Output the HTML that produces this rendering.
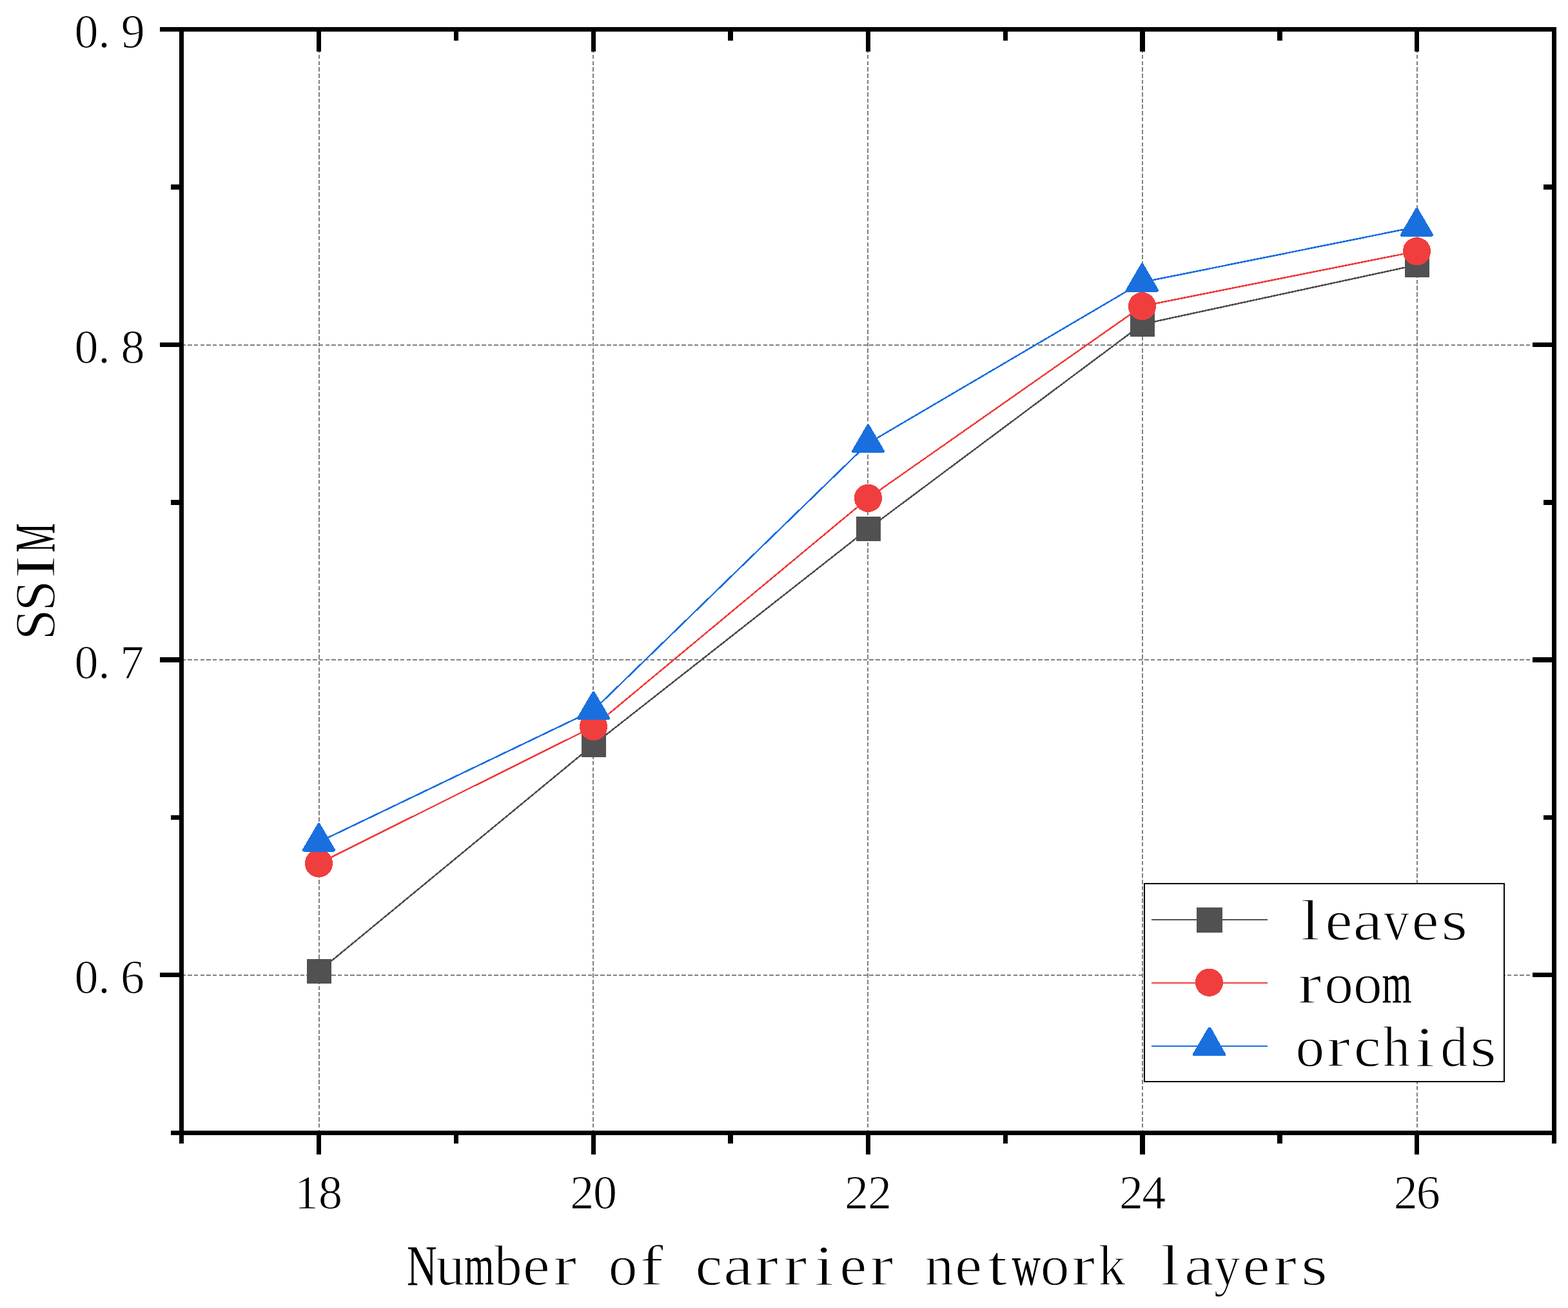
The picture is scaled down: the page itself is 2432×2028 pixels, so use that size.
<!DOCTYPE html>
<html lang="en">
<head>
<meta charset="utf-8">
<title>SSIM vs. number of carrier network layers</title>
<style>
html,body{margin:0;padding:0;background:#fff}
body{width:2432px;height:2028px;overflow:hidden}
svg{display:block}
text{font-family:"Liberation Serif","Noto Serif CJK SC",serif;fill:#000;white-space:pre}
.tick{font-size:74px;stroke:#fff;stroke-width:1px}
.big{font-size:89.5px;stroke:#fff;stroke-width:1.5px}
.w{stroke:none}
.geo{shape-rendering:crispEdges}
</style>
</head>
<body>
<svg width="2432" height="2028" viewBox="0 0 2432 2028" role="img" aria-label="Line chart of SSIM against number of carrier network layers">
<rect width="2432" height="2028" fill="#fff"/>

<g class="geo" stroke="#7f7f7f" stroke-width="2" fill="none">
<line stroke-dasharray="6.5 3.19" x1="495" y1="46.2" x2="495" y2="1756"/>
<line stroke-dasharray="6.5 3.19" x1="920" y1="46.2" x2="920" y2="1756"/>
<line stroke-dasharray="6.5 3.19" x1="1346" y1="46.2" x2="1346" y2="1756"/>
<line stroke-dasharray="6.5 3.19" x1="1772" y1="46.2" x2="1772" y2="1756"/>
<line stroke-dasharray="6.5 3.19" x1="2198" y1="46.2" x2="2198" y2="1756"/>
<line stroke-dasharray="6.5 3.2" x1="281.4" y1="535" x2="2410" y2="535"/>
<line stroke-dasharray="6.5 3.2" x1="281.4" y1="1023" x2="2410" y2="1023"/>
<line stroke-dasharray="6.5 3.2" x1="281.4" y1="1512" x2="2410" y2="1512"/>
</g>
<g class="geo" fill="#515151" stroke="none">
<polyline fill="none" stroke="#515151" stroke-width="2.5" points="494.5,1506 920.5,1154.6 1346.5,820 1771.5,502.8 2197.5,410.8"/>
<rect x="476" y="1487" width="38" height="38"/>
<rect x="902" y="1135.6" width="38" height="38"/>
<rect x="1328" y="801" width="38" height="38"/>
<rect x="1753" y="483.8" width="38" height="38"/>
<rect x="2179" y="391.8" width="38" height="38"/>
</g>
<g class="geo" fill="#F03E3E" stroke="none">
<polyline fill="none" stroke="#F03E3E" stroke-width="2.5" points="494.5,1338.6 920.5,1126.5 1346.5,772.4 1771.5,474.7 2197.5,389.6"/>
<circle cx="494.5" cy="1338.6" r="21.6"/>
<circle cx="920.5" cy="1126.5" r="21.6"/>
<circle cx="1346.5" cy="772.4" r="21.6"/>
<circle cx="1771.5" cy="474.7" r="21.6"/>
<circle cx="2197.5" cy="389.6" r="21.6"/>
</g>
<g class="geo" fill="#1A6FDF" stroke="none">
<polyline fill="none" stroke="#1A6FDF" stroke-width="2.5" points="494.5,1305.5 920.5,1101.2 1346.5,687.3 1771.5,437.6 2197.5,351.7"/>
<polygon stroke="#1A6FDF" stroke-width="5" stroke-linejoin="round" points="494.5,1278.7 517.5,1318 471.5,1318"/>
<polygon stroke="#1A6FDF" stroke-width="5" stroke-linejoin="round" points="920.5,1074.4 943.5,1113.7 897.5,1113.7"/>
<polygon stroke="#1A6FDF" stroke-width="5" stroke-linejoin="round" points="1346.5,660.5 1369.5,699.8 1323.5,699.8"/>
<polygon stroke="#1A6FDF" stroke-width="5" stroke-linejoin="round" points="1771.5,410.8 1794.5,450.1 1748.5,450.1"/>
<polygon stroke="#1A6FDF" stroke-width="5" stroke-linejoin="round" points="2197.5,324.9 2220.5,364.2 2174.5,364.2"/>
</g>
<g class="geo" fill="#000">
<rect x="278" y="42" width="2136" height="7"/>
<rect x="278" y="1753" width="2136" height="7"/>
<rect x="278" y="42" width="7" height="1718"/>
<rect x="2407" y="42" width="7" height="1718"/>
<rect x="278" y="1760" width="7" height="13"/>
<rect x="278" y="49" width="7" height="14"/>
<rect x="491" y="1760" width="7" height="30"/>
<rect x="491" y="49" width="7" height="31"/>
<rect x="704" y="1760" width="7" height="13"/>
<rect x="704" y="49" width="7" height="14"/>
<rect x="917" y="1760" width="7" height="30"/>
<rect x="917" y="49" width="7" height="31"/>
<rect x="1129" y="1760" width="8" height="13"/>
<rect x="1129" y="49" width="8" height="14"/>
<rect x="1343" y="1760" width="7" height="30"/>
<rect x="1343" y="49" width="7" height="31"/>
<rect x="1556" y="1760" width="7" height="13"/>
<rect x="1556" y="49" width="7" height="14"/>
<rect x="1768" y="1760" width="8" height="30"/>
<rect x="1768" y="49" width="8" height="31"/>
<rect x="1981" y="1760" width="8" height="13"/>
<rect x="1981" y="49" width="8" height="14"/>
<rect x="2194" y="1760" width="7" height="30"/>
<rect x="2194" y="49" width="7" height="31"/>
<rect x="2407" y="1760" width="7" height="13"/>
<rect x="2407" y="49" width="7" height="14"/>
<rect x="248" y="42" width="30" height="7"/>
<rect x="2377" y="42" width="30" height="7"/>
<rect x="265" y="286" width="13" height="8"/>
<rect x="2394" y="286" width="13" height="8"/>
<rect x="248" y="531" width="30" height="7"/>
<rect x="2377" y="531" width="30" height="7"/>
<rect x="265" y="775" width="13" height="8"/>
<rect x="2394" y="775" width="13" height="8"/>
<rect x="248" y="1019" width="30" height="8"/>
<rect x="2377" y="1019" width="30" height="8"/>
<rect x="265" y="1264" width="13" height="7"/>
<rect x="2394" y="1264" width="13" height="7"/>
<rect x="248" y="1508" width="30" height="7"/>
<rect x="2377" y="1508" width="30" height="7"/>
<rect x="265" y="1753" width="13" height="7"/>
<rect x="2394" y="1753" width="13" height="7"/>
</g>
<text class="tick" y="73.9" aria-label="0.9"><tspan x="115.5 152.3 187.83">0.9</tspan></text>
<text class="tick" y="562.76" aria-label="0.8"><tspan x="115.5 152.3 187.5">0.8</tspan></text>
<text class="tick" y="1051.61" aria-label="0.7"><tspan x="115.5 152.3 186.13">0.7</tspan></text>
<text class="tick" y="1540.47" aria-label="0.6"><tspan x="115.5 152.3 187.01">0.6</tspan></text>
<text class="tick" y="1874.3" aria-label="18"><tspan x="457.07 494.1">18</tspan></text>
<text class="tick" y="1874.3" aria-label="20"><tspan x="884.32 919.9">20</tspan></text>
<text class="tick" y="1874.3" aria-label="22"><tspan x="1310.12 1346.12">22</tspan></text>
<text class="tick" y="1874.3" aria-label="24"><tspan x="1735.92 1771.36">24</tspan></text>
<text class="tick" y="1874.3" aria-label="26"><tspan x="2161.72 2196.81">26</tspan></text>
<text class="big" y="1992.4" aria-label="Number of carrier network layers"><tspan x="631.04" textLength="46.64" lengthAdjust="spacingAndGlyphs" class="w">N</tspan><tspan x="675.92">u</tspan><tspan x="720.3" textLength="45.96" lengthAdjust="spacingAndGlyphs" class="w">m</tspan><tspan x="766.79" textLength="43.02" lengthAdjust="spacingAndGlyphs">b</tspan><tspan x="810.88" textLength="42.08" lengthAdjust="spacingAndGlyphs">e</tspan><tspan x="857.96" textLength="36.36" lengthAdjust="spacingAndGlyphs">r</tspan><tspan x="899.22 943.67"> o</tspan><tspan x="992.6" textLength="36.36" lengthAdjust="spacingAndGlyphs">f</tspan><tspan x="1033.23"> </tspan><tspan x="1078.6" textLength="42" lengthAdjust="spacingAndGlyphs">c</tspan><tspan x="1121.95" textLength="46.11" lengthAdjust="spacingAndGlyphs">a</tspan><tspan x="1170.65" textLength="36.36" lengthAdjust="spacingAndGlyphs">r</tspan><tspan x="1215.32" textLength="36.36" lengthAdjust="spacingAndGlyphs">r</tspan><tspan x="1263.21" textLength="30.34" lengthAdjust="spacingAndGlyphs">i</tspan><tspan x="1302.25" textLength="42.08" lengthAdjust="spacingAndGlyphs">e</tspan><tspan x="1349.33" textLength="36.36" lengthAdjust="spacingAndGlyphs">r</tspan><tspan x="1390.59 1434.59"> n</tspan><tspan x="1480.93" textLength="42.08" lengthAdjust="spacingAndGlyphs">e</tspan><tspan x="1531.72" textLength="30.34" lengthAdjust="spacingAndGlyphs">t</tspan><tspan x="1569.41" textLength="44.33" lengthAdjust="spacingAndGlyphs" class="w">w</tspan><tspan x="1613.72">o</tspan><tspan x="1662.02" textLength="36.36" lengthAdjust="spacingAndGlyphs">r</tspan><tspan x="1703.55" textLength="42.44" lengthAdjust="spacingAndGlyphs">k</tspan><tspan x="1747.95"> </tspan><tspan x="1800.1" textLength="30.34" lengthAdjust="spacingAndGlyphs">l</tspan><tspan x="1836.67" textLength="46.11" lengthAdjust="spacingAndGlyphs">a</tspan><tspan x="1883.08" textLength="40.78" lengthAdjust="spacingAndGlyphs">y</tspan><tspan x="1927.63" textLength="42.08" lengthAdjust="spacingAndGlyphs">e</tspan><tspan x="1974.71" textLength="36.36" lengthAdjust="spacingAndGlyphs">r</tspan><tspan x="2018.07" textLength="40.99" lengthAdjust="spacingAndGlyphs">s</tspan></text>
<text class="big" y="0" aria-label="SSIM" transform="translate(83.6,990.5) rotate(-90)"><tspan x="-1.89" textLength="47.96" lengthAdjust="spacingAndGlyphs">S</tspan><tspan x="42.78" textLength="47.96" lengthAdjust="spacingAndGlyphs">S</tspan><tspan x="93.36" textLength="36.36" lengthAdjust="spacingAndGlyphs">I</tspan><tspan x="133.95" textLength="45.15" lengthAdjust="spacingAndGlyphs" class="w">M</tspan></text>
<g class="geo">
<rect x="1775" y="1370" width="558" height="306.5" fill="#fff" stroke="#000" stroke-width="2"/>
<g fill="#515151">
<line x1="1786" y1="1425.8" x2="1966" y2="1425.8" stroke="#515151" stroke-width="2"/>
<rect x="1856" y="1407" width="40" height="39"/>
</g>
<g fill="#F03E3E">
<line x1="1786" y1="1523.8" x2="1966" y2="1523.8" stroke="#F03E3E" stroke-width="2"/>
<circle cx="1875.5" cy="1523.3" r="21.6"/>
</g>
<g fill="#1A6FDF">
<line x1="1786" y1="1621.8" x2="1966" y2="1621.8" stroke="#1A6FDF" stroke-width="2"/>
<polygon points="1874,1593 1878,1593 1901,1634 1901,1637 1850,1637 1850,1634"/>
</g>
</g>
<text class="big" y="1456.9" aria-label="leaves"><tspan x="2017.28" textLength="30.34" lengthAdjust="spacingAndGlyphs">l</tspan><tspan x="2055.47" textLength="42.08" lengthAdjust="spacingAndGlyphs">e</tspan><tspan x="2098.52" textLength="46.11" lengthAdjust="spacingAndGlyphs">a</tspan><tspan x="2146.35" textLength="39.42" lengthAdjust="spacingAndGlyphs">v</tspan><tspan x="2189.48" textLength="42.08" lengthAdjust="spacingAndGlyphs">e</tspan><tspan x="2235.25" textLength="40.99" lengthAdjust="spacingAndGlyphs">s</tspan></text>
<text class="big" y="1554.9" aria-label="room"><tspan x="2013.21" textLength="36.36" lengthAdjust="spacingAndGlyphs">r</tspan><tspan x="2054.24 2098.91">oo</tspan><tspan x="2143.57" textLength="45.96" lengthAdjust="spacingAndGlyphs" class="w">m</tspan></text>
<text class="big" y="1652.9" aria-label="orchids"><tspan x="2009.58">o</tspan><tspan x="2057.88" textLength="36.36" lengthAdjust="spacingAndGlyphs">r</tspan><tspan x="2099.84" textLength="42" lengthAdjust="spacingAndGlyphs">c</tspan><tspan x="2144.66" textLength="42.58" lengthAdjust="spacingAndGlyphs">h</tspan><tspan x="2195.11" textLength="30.34" lengthAdjust="spacingAndGlyphs">i</tspan><tspan x="2234.28" textLength="42.31" lengthAdjust="spacingAndGlyphs">d</tspan><tspan x="2279.92" textLength="40.99" lengthAdjust="spacingAndGlyphs">s</tspan></text>
</svg>
</body>
</html>
